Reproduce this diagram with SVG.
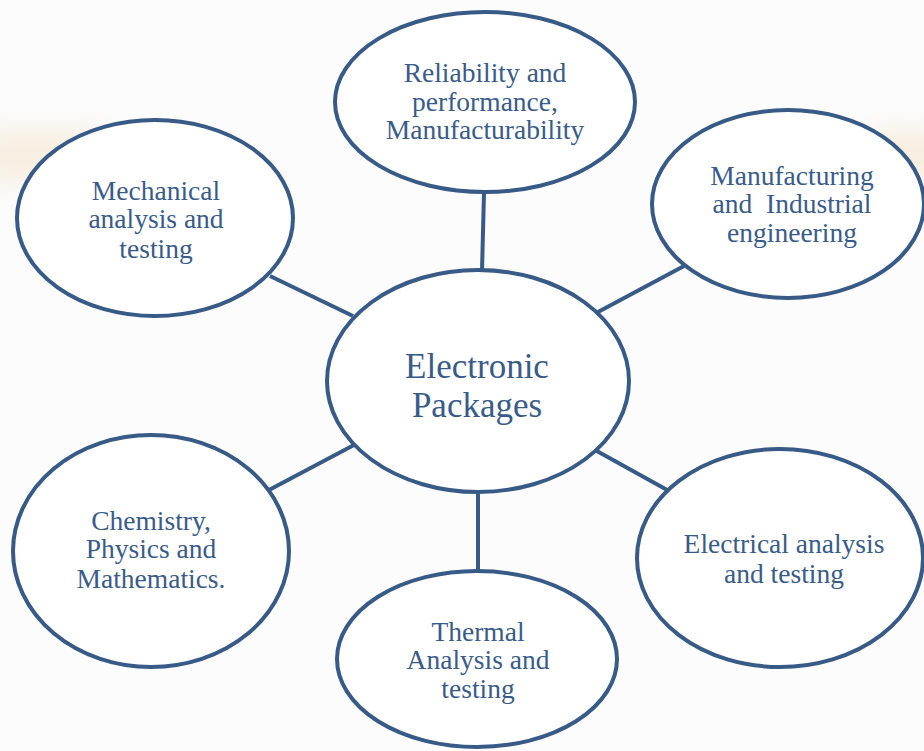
<svg xmlns="http://www.w3.org/2000/svg" width="924" height="751" viewBox="0 0 924 751">
  <defs>
    <filter id="soften" x="-30%" y="-60%" width="160%" height="220%">
      <feGaussianBlur stdDeviation="12"/>
    </filter>
  </defs>
  <style>
    .bubble { fill: #ffffff; stroke: #385a87; stroke-width: 4; }
    .link { stroke: #385a87; stroke-width: 4; stroke-linecap: butt; fill: none; }
    .label { font-family: "Liberation Serif", "Times New Roman", serif; font-size: 27.5px; fill: #395b8a; text-anchor: middle; white-space: pre; }
    .hub { font-size: 35px; }
    .tint { fill: #f3e4cb; opacity: 0.55; filter: url(#soften); }
  </style>

  <!-- page background with a faint warm tint at the edges -->
  <rect x="0" y="0" width="924" height="751" fill="#fcfcfd"/>
  <rect class="tint" x="-20" y="128" width="130" height="56"/>
  <rect class="tint" x="870" y="128" width="80" height="56"/>

  <!-- spokes from the hub to each topic -->
  <g id="connectors">
    <line class="link" x1="484" y1="193" x2="482" y2="271"/>
    <line class="link" x1="270" y1="276" x2="353" y2="316"/>
    <line class="link" x1="598" y1="312" x2="684" y2="266"/>
    <line class="link" x1="269" y1="490" x2="354" y2="445"/>
    <line class="link" x1="595" y1="450" x2="669" y2="491"/>
    <line class="link" x1="478" y1="493" x2="478" y2="571"/>
  </g>

  <g id="node-hub">
    <ellipse class="bubble" cx="478" cy="381" rx="151" ry="111"/>
    <text class="label hub" x="477" y="378">Electronic</text>
    <text class="label hub" x="477" y="417">Packages</text>
  </g>

  <g id="node-reliability">
    <ellipse class="bubble" cx="485" cy="102" rx="150" ry="90"/>
    <text class="label" x="485" y="82">Reliability and</text>
    <text class="label" x="485" y="111">performance,</text>
    <text class="label" x="485" y="139">Manufacturability</text>
  </g>

  <g id="node-mechanical">
    <ellipse class="bubble" cx="155" cy="218" rx="138" ry="98"/>
    <text class="label" x="156" y="200">Mechanical</text>
    <text class="label" x="156" y="228">analysis and</text>
    <text class="label" x="156" y="258">testing</text>
  </g>

  <g id="node-manufacturing">
    <ellipse class="bubble" cx="788" cy="204" rx="136" ry="94"/>
    <text class="label" x="792" y="185">Manufacturing</text>
    <text class="label" x="792" y="213">and  Industrial</text>
    <text class="label" x="792" y="242">engineering</text>
  </g>

  <g id="node-chemistry">
    <ellipse class="bubble" cx="151" cy="551" rx="138" ry="116"/>
    <text class="label" x="151" y="530">Chemistry,</text>
    <text class="label" x="151" y="558">Physics and</text>
    <text class="label" x="151" y="588">Mathematics.</text>
  </g>

  <g id="node-electrical">
    <ellipse class="bubble" cx="780" cy="558" rx="143" ry="109"/>
    <text class="label" x="784" y="553">Electrical analysis</text>
    <text class="label" x="784" y="583">and testing</text>
  </g>

  <g id="node-thermal">
    <ellipse class="bubble" cx="477" cy="659" rx="140" ry="88"/>
    <text class="label" x="478" y="641">Thermal</text>
    <text class="label" x="478" y="669">Analysis and</text>
    <text class="label" x="478" y="698">testing</text>
  </g>
</svg>
